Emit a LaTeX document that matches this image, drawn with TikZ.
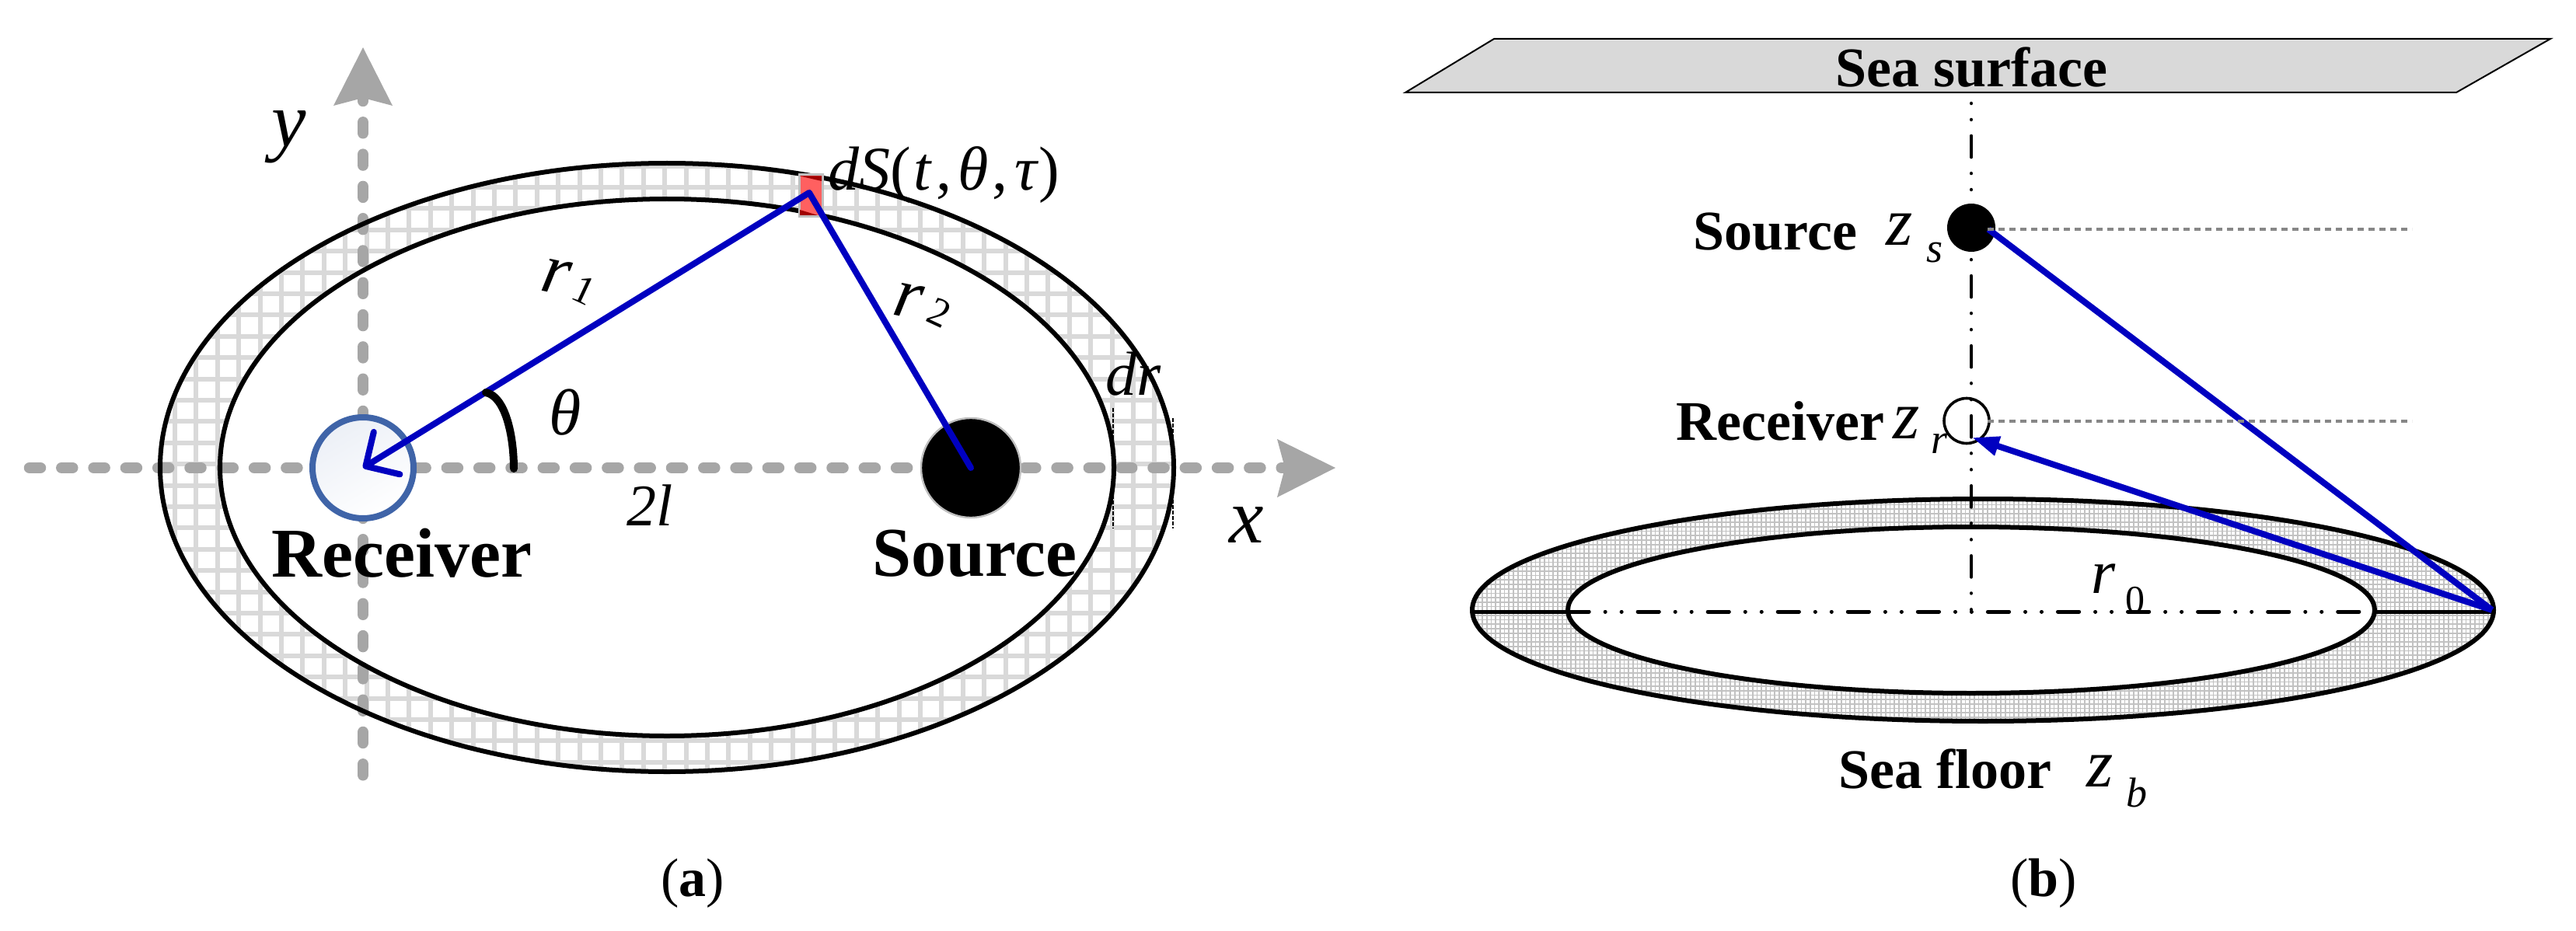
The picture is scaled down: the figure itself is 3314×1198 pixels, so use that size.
\documentclass[tikz,border=0pt]{standalone}
\usepackage{fontspec}
\setmainfont{Liberation Serif}
\usetikzlibrary{arrows.meta}
\definecolor{axisgray}{HTML}{A6A6A6}
\definecolor{gridgray}{HTML}{D9D9D9}
\definecolor{finegray}{HTML}{C2C2C2}
\definecolor{rayblue}{HTML}{0000C0}
\definecolor{patchred}{HTML}{FF6060}
\definecolor{patchdark}{HTML}{A00000}
\definecolor{rcvblue}{HTML}{3F64A8}
\newcommand{\fsz}[1]{\fontsize{#1}{#1}\selectfont}
\tikzset{
  x=0.5pt,y=-0.5pt,
  lbl/.style={inner sep=0pt,outer sep=0pt,anchor=center},
  boldlbl/.style={lbl,font=\fsz{45}\bfseries},
  boldsmall/.style={lbl,font=\fsz{36}\bfseries},
  mathbig/.style={lbl,font=\fsz{50}\itshape},
  mathmid/.style={lbl,font=\fsz{40}\itshape},
  mathsub/.style={lbl,font=\fsz{27}\itshape},
  axisline/.style={draw=axisgray,line width=7.25pt,line cap=round,dash pattern=on 7pt off 13.65pt},
  axishead/.style={fill=axisgray,draw=none},
  ring/.style={draw=black,line width=3pt},
  ray/.style={draw=rayblue,line width=4pt,line join=round},
  levelline/.style={draw=black!47,line width=2.3pt,dash pattern=on 4pt off 3pt},
  centerv/.style={draw=black,line width=2.25pt,line cap=round,dash pattern=on 0.01pt off 10.47pt on 0.01pt off 10.47pt on 13.6pt off 10.47pt},
  centerh/.style={draw=black,line width=2.5pt,line cap=round,dash pattern=on 13.6pt off 10.47pt on 0.01pt off 10.47pt on 0.01pt off 10.47pt},
}
\begin{document}
\begin{tikzpicture}
\useasboundingbox (0,0) rectangle (3314,1198);
% ---------- panel (a) ----------
\begin{scope}
  \clip (858,601.5) ellipse [x radius=652,y radius=391.5];
  \foreach \k in {-30,...,30}{
    \draw[gridgray,line width=3pt] ({910+27.4*\k},200) -- ({910+27.4*\k},1000);
    \draw[gridgray,line width=3pt] (200,{241+27.4*\k}) -- (1520,{241+27.4*\k});
  }
  \fill[white] (858,601.5) ellipse [x radius=575,y radius=345.5];
\end{scope}
\coordinate (xs) at (38,602); \coordinate (xe) at (1660,602);
\coordinate (ys) at (467,116); \coordinate (ye) at (467,1004);
\draw[axisline] (xs) -- (xe);
\draw[axisline] (ys) -- (ye);
\fill[axishead] (1718,602) -- (1643,640) -- (1653,602) -- (1643,565) -- cycle;
\fill[axishead] (467,61) -- (429,136) -- (467,126) -- (505,136) -- cycle;
\draw[ring] (858,601.5) ellipse [x radius=652,y radius=391.5];
\draw[ring] (858,601.5) ellipse [x radius=575,y radius=345.5];
% dr ticks
\draw[black,line width=1.2pt,dash pattern=on 2.5pt off 1pt] (1432,525) -- (1432,680);
\draw[black,line width=1.2pt,dash pattern=on 2.5pt off 1pt] (1509,538) -- (1509,680);
% patch
\draw[draw=black!25,line width=1.5pt,fill=patchred] (1028.5,224.5) rectangle (1058,279);
\fill[patchdark] (1029,226.5) -- (1057,226.5) -- (1057,233) -- cycle;
\fill[patchdark] (1029,270) -- (1052,277) -- (1029,277) -- cycle;
\coordinate (P) at (1041,248);
% receiver and source
\node[circle,draw=rcvblue,line width=4pt,minimum size=65pt,inner sep=0pt,top color=rcvblue!10,bottom color=white,shading angle=30] (R) at (467,602) {};
\node[circle,draw=black!25,line width=1.2pt,fill=black,minimum size=64pt,inner sep=0pt] (S) at (1249,602) {};
\coordinate (Rc) at (467,602); \coordinate (Sc) at (1249,602);
\draw[ray,line cap=round] (Sc) -- (P);
\draw[ray,-{Straight Barb[length=16pt,width=32pt,round]}] (P) -- (Rc);
% angle
\coordinate (a1) at (625,505); \coordinate (a2) at (661,603);
\draw[black,line width=5pt,line cap=round] (a1) .. controls (650,510) and (661,560) .. (a2);
% labels (a)
\node[mathbig] (ly) at (372,176) {y};
\node[mathbig] (lx) at (1604,676) {x};
\node[lbl,font=\fsz{46}\itshape,rotate=-12] (lr1) at (716,356) {r};
\node[lbl,font=\fsz{26},rotate=-25] (lr1s) at (752,373) {1};
\node[lbl,font=\fsz{46}\itshape,rotate=-12] (lr2) at (1169,387) {r};
\node[lbl,font=\fsz{26},rotate=-25] (lr2s) at (1209,402) {2};
\node[lbl,font=\fsz{42}\itshape] (lth) at (727,531) {θ};
\node[lbl,font=\fsz{38}\itshape] (l2l) at (836,650) {2l};
\node[mathmid] (ldr) at (1458,481) {dr};
\node[lbl,anchor=base west,font=\fsz{40}] (ldS) at (1065,245) {\textit{dS}(\kern2pt\textit{t}\kern2.5pt,\kern4pt\textit{θ}\kern2.5pt,\kern4.5pt\textit{τ})};
\node[boldlbl] (lrc) at (517,712) {Receiver};
\node[boldlbl] (lsc) at (1254,712) {Source};
\node[lbl,font=\fsz{35}] (la) at (891,1137) {(\textbf{a})};
% ---------- panel (b) ----------
\draw[fill=gridgray,draw=black,line width=1pt] (1808,119) -- (1922,50) -- (3281,50) -- (3160,119) -- cycle;
\node[boldsmall] (lsea) at (2536,87) {Sea surface};
\begin{scope}
  \clip (2551,785) ellipse [x radius=657,y radius=143];
  \foreach \k in {0,...,232}{
    \draw[finegray,line width=.85pt] ({1890+5.7*\k},640) -- ({1890+5.7*\k},930);
  }
  \foreach \k in {0,...,52}{
    \draw[finegray,line width=.85pt] (1890,{638+5.7*\k}) -- (3212,{638+5.7*\k});
  }
  \fill[white] (2536,785) ellipse [x radius=519,y radius=107];
\end{scope}
\draw[ring] (2551,785) ellipse [x radius=657,y radius=143];
\draw[ring] (2536,785) ellipse [x radius=519,y radius=107];
\coordinate (ol) at (1894,787); \coordinate (il) at (2017,787);
\coordinate (ir) at (3055,787); \coordinate (or) at (3208,787);
\draw[black,line width=2.5pt] (ol) -- (il);
\draw[black,line width=2.5pt] (ir) -- (or);
\draw[centerh] (il) -- (ir);
\coordinate (vt) at (2536,133); \coordinate (vb) at (2536,787);
\draw[centerv] (vt) -- (vb);
\node[circle,fill=black,minimum size=31pt,inner sep=0pt] (Sb) at (2536,293) {};
\node[circle,draw=black,line width=1.8pt,minimum size=29pt,inner sep=0pt] (Rb) at (2530,541.5) {};
\coordinate (l1) at (3103,295); \coordinate (l2) at (3103,542);
\coordinate (apex) at (3206,785);
\coordinate (Rt) at (2537,563);
\coordinate (Ss) at (2558,295);
\draw[ray] (Ss) -- (apex);
\draw[ray,-{Triangle[length=17.5pt,width=12pt]}] (apex) -- (Rt);
\draw[levelline] (2557,295) -- (l1);
\draw[levelline] (2557,542) -- (l2);
\node[boldsmall] (lsb) at (2284,298) {Source};
\node[boldsmall] (lrb) at (2290,542) {Receiver};
\node[boldsmall] (lfl) at (2502,989) {Sea floor};
\node[lbl,font=\fsz{44}\itshape] (lzs) at (2444,295) {z};
\node[mathsub] (lzss) at (2489,325) {s};
\node[lbl,font=\fsz{44}\itshape] (lzr) at (2453,544) {z};
\node[mathsub] (lzrs) at (2495,571) {r};
\node[lbl,font=\fsz{44}\itshape] (lzb) at (2702,992) {z};
\node[mathsub] (lzbs) at (2749,1020) {b};
\node[lbl,font=\fsz{40}\itshape] (lr0) at (2706,745) {r};
\node[lbl,font=\fsz{25}] (lr0s) at (2747,772) {0};
\node[lbl,font=\fsz{35}] (lb) at (2629,1137) {(\textbf{b})};
\end{tikzpicture}
\end{document}
